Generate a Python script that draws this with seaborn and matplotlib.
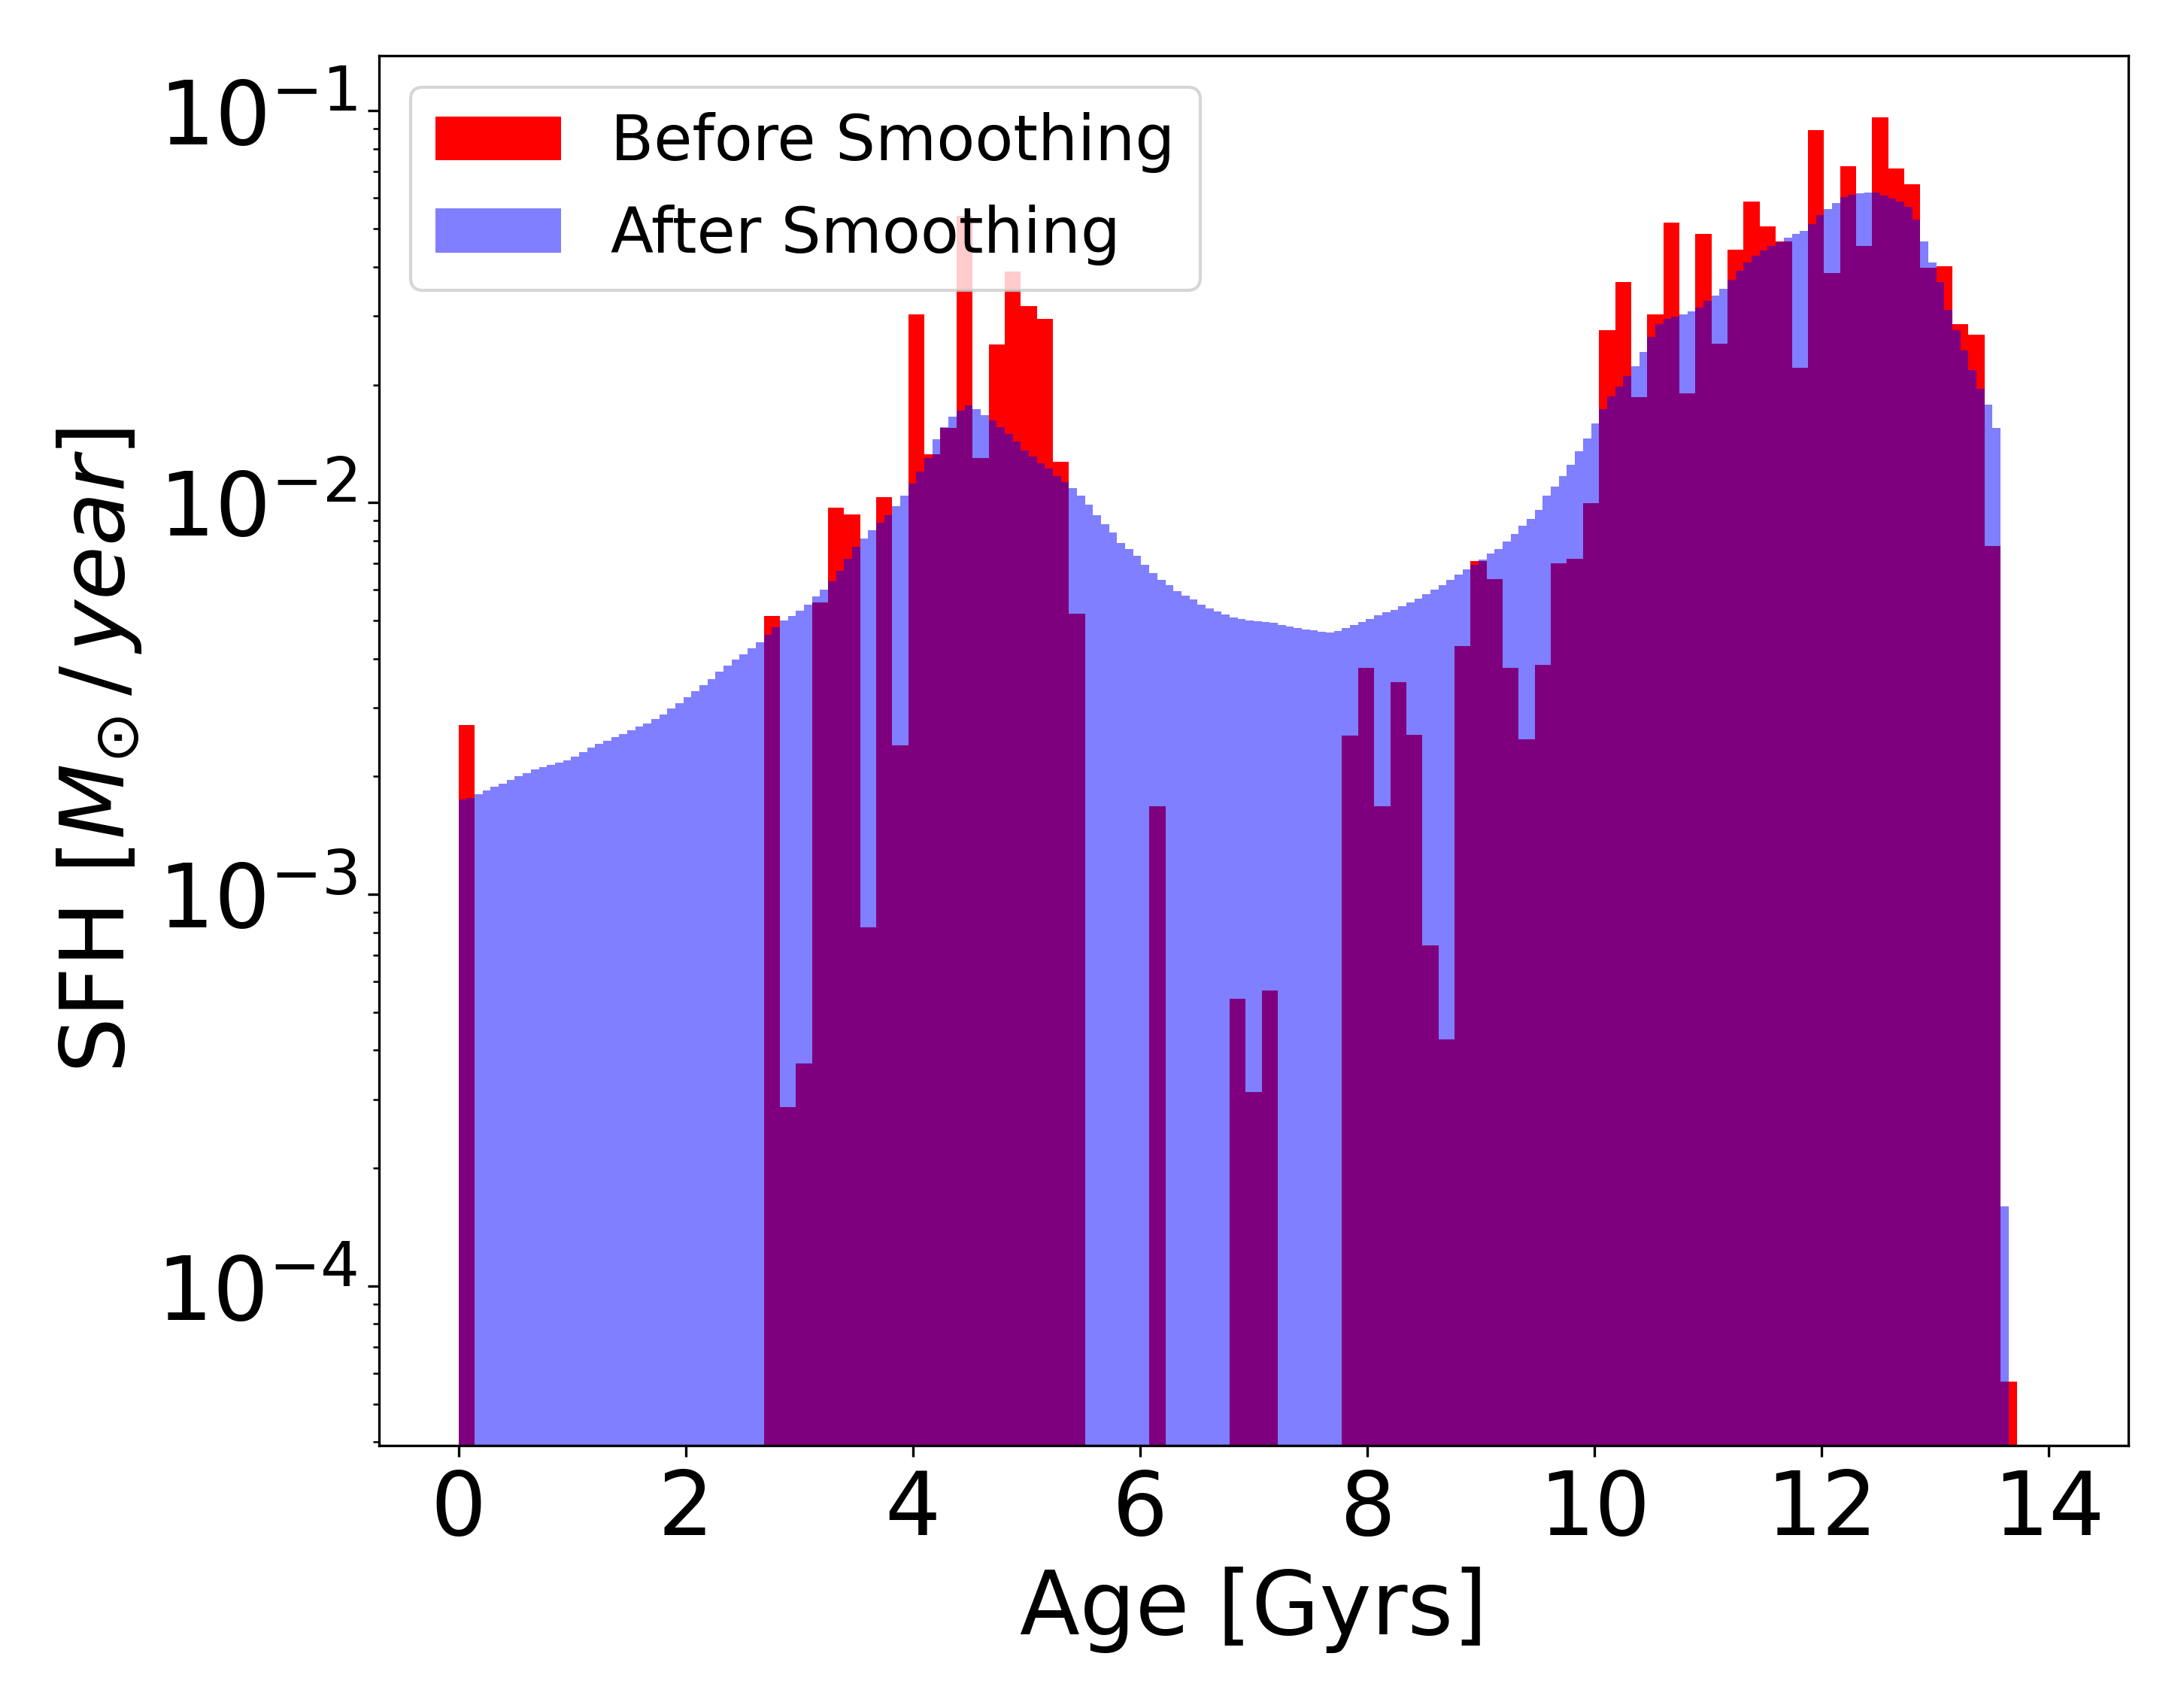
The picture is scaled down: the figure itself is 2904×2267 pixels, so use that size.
"""Star formation history before and after smoothing."""

import matplotlib
matplotlib.use("Agg")
import matplotlib.pyplot as plt
from matplotlib.patches import Patch
import numpy as np
import pandas as pd
import seaborn as sns

# Red histogram: 99 bins of equal width between 0 and 14 Gyr
red_edges = np.linspace(0, 14, 100)
red_sfh = [
    2.70e-3, 0, 0, 0, 0, 0, 0, 0, 0, 0,
    0, 0, 0, 0, 0, 0, 0, 0, 0, 5.14e-3,
    2.86e-4, 3.70e-4, 5.56e-3, 9.69e-3, 9.33e-3, 8.24e-4, 1.035e-2, 2.40e-3, 3.03e-2, 1.33e-2,
    1.55e-2, 5.4e-2, 1.30e-2, 2.53e-2, 3.89e-2, 3.17e-2, 2.94e-2, 1.27e-2, 5.21e-3, 0,
    0, 0, 0, 1.68e-3, 0, 0, 0, 0, 5.42e-4, 3.13e-4,
    5.69e-4, 0, 0, 0, 0, 2.54e-3, 3.78e-3, 1.68e-3, 3.48e-3, 2.56e-3,
    7.41e-4, 4.26e-4, 4.30e-3, 7.10e-3, 6.38e-3, 3.78e-3, 2.49e-3, 3.85e-3, 7.0e-3, 7.18e-3,
    9.95e-3, 2.75e-2, 3.65e-2, 1.86e-2, 3.02e-2, 5.19e-2, 1.90e-2, 4.86e-2, 2.54e-2, 4.43e-2,
    5.86e-2, 5.07e-2, 4.64e-2, 2.21e-2, 8.93e-2, 3.85e-2, 7.22e-2, 4.53e-2, 9.65e-2, 7.13e-2,
    6.50e-2, 3.98e-2, 4.01e-2, 2.86e-2, 2.68e-2, 7.76e-3, 5.7e-5, 0, 0,
]

# Blue (smoothed) histogram: 198 bins of equal width between 0 and 14 Gyr
blue_edges = np.linspace(0, 14, 199)
blue_sfh = [
    1.75e-3, 1.76e-3, 1.80e-3, 1.84e-3, 1.88e-3, 1.92e-3, 1.96e-3, 2.00e-3, 2.04e-3, 2.08e-3,
    2.11e-3, 2.14e-3, 2.17e-3, 2.20e-3, 2.25e-3, 2.31e-3, 2.37e-3, 2.42e-3, 2.47e-3, 2.52e-3,
    2.57e-3, 2.62e-3, 2.68e-3, 2.73e-3, 2.80e-3, 2.88e-3, 2.98e-3, 3.08e-3, 3.18e-3, 3.30e-3,
    3.42e-3, 3.55e-3, 3.70e-3, 3.84e-3, 3.97e-3, 4.10e-3, 4.25e-3, 4.40e-3, 4.60e-3, 4.80e-3,
    5.00e-3, 5.13e-3, 5.30e-3, 5.50e-3, 5.75e-3, 6.00e-3, 6.30e-3, 6.70e-3, 7.20e-3, 7.70e-3,
    8.10e-3, 8.50e-3, 8.90e-3, 9.30e-3, 9.80e-3, 1.04e-2, 1.12e-2, 1.20e-2, 1.30e-2, 1.45e-2,
    1.56e-2, 1.66e-2, 1.72e-2, 1.77e-2, 1.73e-2, 1.67e-2, 1.62e-2, 1.56e-2, 1.50e-2, 1.43e-2,
    1.36e-2, 1.31e-2, 1.26e-2, 1.22e-2, 1.17e-2, 1.13e-2, 1.09e-2, 1.04e-2, 9.9e-3, 9.3e-3,
    8.8e-3, 8.4e-3, 7.9e-3, 7.6e-3, 7.3e-3, 6.95e-3, 6.6e-3, 6.35e-3, 6.15e-3, 5.95e-3,
    5.8e-3, 5.65e-3, 5.5e-3, 5.38e-3, 5.28e-3, 5.18e-3, 5.1e-3, 5.05e-3, 5.0e-3, 4.97e-3,
    4.95e-3, 4.93e-3, 4.88e-3, 4.83e-3, 4.78e-3, 4.75e-3, 4.72e-3, 4.68e-3, 4.66e-3, 4.70e-3,
    4.78e-3, 4.87e-3, 4.95e-3, 5.05e-3, 5.15e-3, 5.24e-3, 5.33e-3, 5.45e-3, 5.55e-3, 5.68e-3,
    5.85e-3, 6.00e-3, 6.15e-3, 6.35e-3, 6.55e-3, 6.75e-3, 6.95e-3, 7.15e-3, 7.40e-3, 7.60e-3,
    7.95e-3, 8.30e-3, 8.75e-3, 9.1e-3, 9.6e-3, 1.04e-2, 1.10e-2, 1.17e-2, 1.25e-2, 1.35e-2,
    1.46e-2, 1.59e-2, 1.73e-2, 1.87e-2, 1.98e-2, 2.10e-2, 2.23e-2, 2.42e-2, 2.65e-2, 2.86e-2,
    2.95e-2, 2.99e-2, 3.02e-2, 3.08e-2, 3.15e-2, 3.27e-2, 3.38e-2, 3.52e-2, 3.70e-2, 3.90e-2,
    4.10e-2, 4.26e-2, 4.40e-2, 4.53e-2, 4.63e-2, 4.75e-2, 4.85e-2, 4.95e-2, 5.15e-2, 5.42e-2,
    5.62e-2, 5.82e-2, 6.02e-2, 6.12e-2, 6.17e-2, 6.20e-2, 6.18e-2, 6.08e-2, 5.97e-2, 5.88e-2,
    5.70e-2, 5.28e-2, 4.65e-2, 4.10e-2, 3.65e-2, 3.10e-2, 2.75e-2, 2.45e-2, 2.18e-2, 1.95e-2,
    1.78e-2, 1.55e-2, 1.6e-4, 0, 0, 0, 0, 0,
]

legend_labels = ["Before Smoothing", "After Smoothing"]

red_df = pd.DataFrame({
    "age": 0.5 * (red_edges[:-1] + red_edges[1:]),
    "sfh": red_sfh,
})
blue_df = pd.DataFrame({
    "age": 0.5 * (blue_edges[:-1] + blue_edges[1:]),
    "sfh": blue_sfh,
})

fig = plt.figure(figsize=(9.68, 7.5567), dpi=300)
ax = fig.add_axes([0.17355, 0.15218, 0.80096, 0.81517])

# seaborn compares bins against "auto", so hand it a plain list
sns.histplot(data=red_df, x="age", weights="sfh", bins=red_edges.tolist(),
             color="red", alpha=1.0, linewidth=0, edgecolor="none", ax=ax)
sns.histplot(data=blue_df, x="age", weights="sfh", bins=blue_edges.tolist(),
             color="blue", alpha=0.5, linewidth=0, edgecolor="none", ax=ax)

ax.set_yscale("log")
ax.set_xlim(-0.7, 14.7)
ax.set_ylim(10 ** -4.407, 10 ** -0.859)
ax.set_xticks([0, 2, 4, 6, 8, 10, 12, 14])

ax.set_xlabel("Age [Gyrs]", fontsize=28)
ax.set_ylabel(r"SFH [$M_{\odot}\,/\,year$]", fontsize=28)
ax.tick_params(axis="both", which="major", labelsize=28)

handles = [Patch(facecolor="red", alpha=1.0),
           Patch(facecolor="blue", alpha=0.5)]
ax.legend(handles, legend_labels, loc="upper left", fontsize=20)

fig.savefig("out.png", dpi=300)
plt.close(fig)
